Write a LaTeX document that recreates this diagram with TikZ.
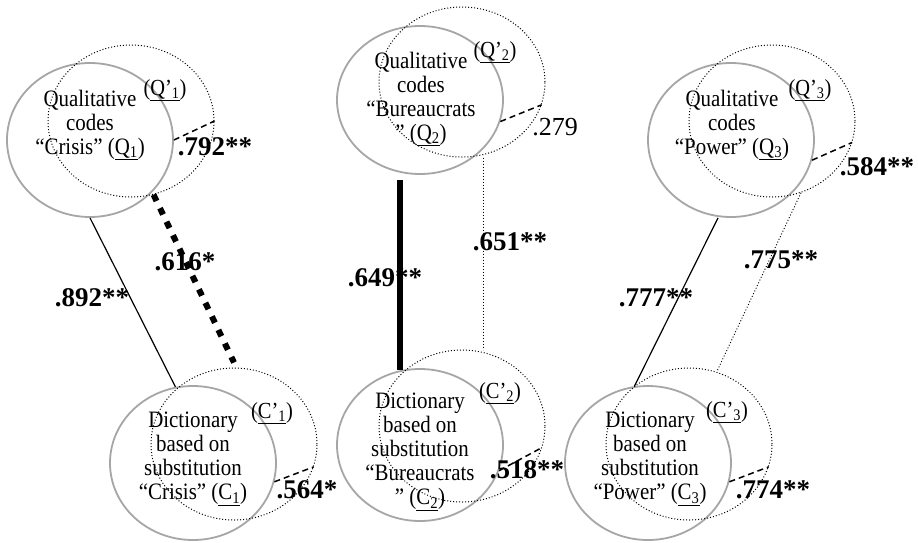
\documentclass[tikz,border=0pt]{standalone}
\usepackage{fontspec}
\setmainfont{Liberation Serif}
\newfontfamily\tallserif[FakeStretch=0.89]{Liberation Serif}
\usetikzlibrary{shapes.geometric}
\begin{document}
\begin{tikzpicture}[x=1pt,y=-1pt,
 solidell/.style={ellipse,draw=black!35,line width=1.8pt,minimum width=166pt,minimum height=154pt,inner sep=0pt},
 dotell/.style={ellipse,draw=black,line width=1pt,dash pattern=on 1pt off 2pt,minimum width=166pt,minimum height=152pt,inner sep=0pt},
 body/.style={font=\tallserif\fontsize{23.5}{24}\selectfont,align=center,inner sep=0pt},
 prime/.style={font=\tallserif\fontsize{23}{24}\selectfont,inner sep=0pt},
 coef/.style={font=\fontsize{27}{30}\selectfont\bfseries,inner sep=0pt},
 coefplain/.style={font=\fontsize{26}{30}\selectfont,inner sep=0pt},
 shortdash/.style={line width=1.5pt,dash pattern=on 6pt off 4pt},
 thinsolid/.style={line width=1.2pt},
 thicksolid/.style={line width=6pt},
 squaredots/.style={line width=6pt,dash pattern=on 7pt off 8pt},
 thindots/.style={line width=0.9pt,dash pattern=on 1pt off 2pt}]
\useasboundingbox[fill=white] (0,0) rectangle (918,542);

% ellipses
\node[solidell] (q1) at (90,140) {};
\node[dotell] (q1p) at (131,121) {};
\node[solidell,minimum height=148pt] (q2) at (420,100) {};
\node[dotell,minimum height=150pt] (q2p) at (462,82) {};
\node[solidell] (q3) at (731,140) {};
\node[dotell] (q3p) at (772,121) {};
\node[solidell] (c1) at (193,463) {};
\node[dotell] (c1p) at (234,444) {};
\node[solidell,minimum height=152pt] (c2) at (420,445) {};
\node[dotell] (c2p) at (462,426) {};
\node[solidell] (c3) at (648,463) {};
\node[dotell] (c3p) at (689,444) {};

% texts
\node[body] (tq1) at (90,125) {Qualitative\\codes\\“Crisis” (\underline{Q\textsubscript{1}})};
\node[body] (tq2) at (421,99) {Qualitative\\codes\\“Bureaucrats\\” (\underline{Q\textsubscript{2}})};
\node[body] (tq3) at (732,125) {Qualitative\\codes\\“Power” (\underline{Q\textsubscript{3}})};
\node[body] (tc1) at (193,459) {Dictionary\\based on\\substitution\\“Crisis” (\underline{C\textsubscript{1}})};
\node[body] (tc2) at (420,452) {Dictionary\\based on\\substitution\\“Bureaucrats\\” (\underline{C\textsubscript{2}})};
\node[body] (tc3) at (650,459) {Dictionary\\based on\\substitution\\“Power” (\underline{C\textsubscript{3}})};

\node[prime] (pq1) at (165,90) {(\underline{Q’\textsubscript{1}})};
\node[prime] (pq2) at (495,52) {(\underline{Q’\textsubscript{2}})};
\node[prime] (pq3) at (810,90) {(\underline{Q’\textsubscript{3}})};
\node[prime] (pc1) at (272,413) {(\underline{C’\textsubscript{1}})};
\node[prime] (pc2) at (500,393) {(\underline{C’\textsubscript{2}})};
\node[prime] (pc3) at (727,412) {(\underline{C’\textsubscript{3}})};

% coefficients
\node[coef] (k792) at (215,147) {.792**};
\node[coefplain] (k279) at (555,127) {.279};
\node[coef] (k584) at (877,167) {.584**};
\node[coef] (k616) at (185,262) {.616*};
\node[coef] (k892) at (92,298) {.892**};
\node[coef] (k649) at (385,278) {.649**};
\node[coef] (k651) at (510,242) {.651**};
\node[coef] (k777) at (656,298) {.777**};
\node[coef] (k775) at (781,260) {.775**};
\node[coef] (k564) at (307,490) {.564*};
\node[coef] (k518) at (527,470) {.518**};
\node[coef] (k774) at (773,490) {.774**};

% short dashed links between paired ellipses
\draw[shortdash] (q1.east) -- (q1p.east);
\draw[shortdash] (q2.-15) -- (q2p.-16);
\draw[shortdash] (q3.-14) -- (q3p.-15);
\draw[shortdash] (c1.-13) -- (c1p.-16);
\draw[shortdash] (c2.-18) -- (c2p.-15);
\draw[shortdash] (c3.-13) -- (c3p.-16);

% vertical connectors
\draw[thinsolid] (q1.south) -- (c1.103);
\draw[squaredots] (q1p.-73) -- ([yshift=5pt]c1p.north);
\draw[thicksolid] ([xshift=-20pt,yshift=-5pt]q2.south) -- ([xshift=-20pt,yshift=-2pt]c2.north);
\draw[thindots] ([xshift=21pt]q2p.south) -- ([xshift=21pt]c2p.north);
\draw[thinsolid] ([xshift=-13pt]q3.south) -- (c3.100);
\draw[thindots] (q3p.-68) -- (c3p.69);
\end{tikzpicture}
\end{document}
